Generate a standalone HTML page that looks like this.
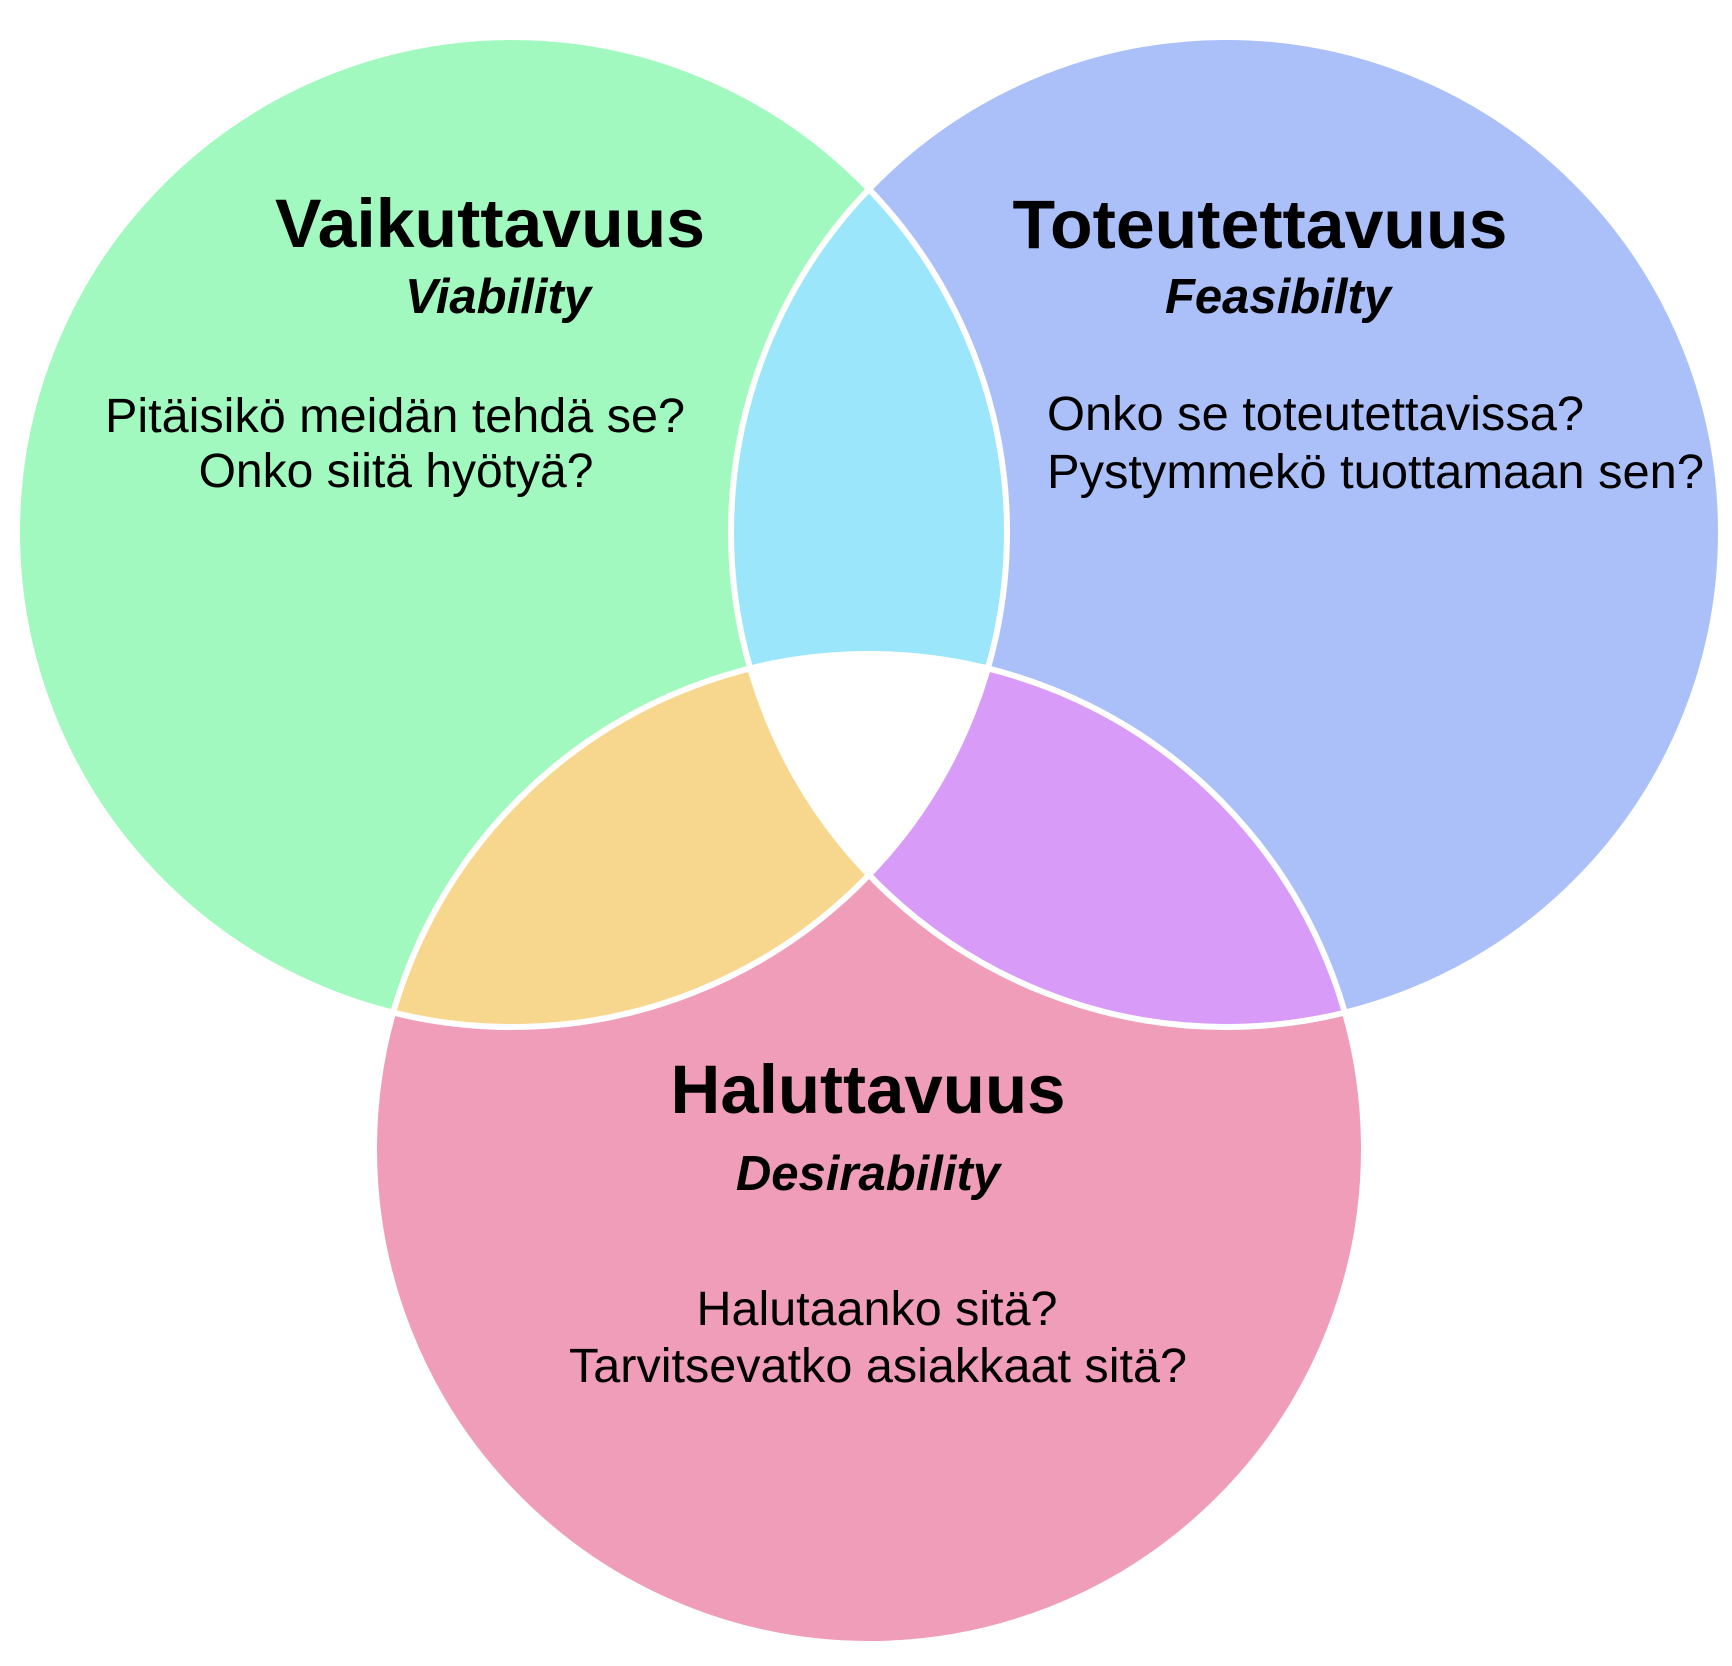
<!DOCTYPE html>
<html><head><meta charset="utf-8"><style>
html,body{margin:0;padding:0;background:#fff;}
svg{display:block;}
text{font-family:"Liberation Sans",Arial,sans-serif;fill:#000;}
</style></head><body>
<svg width="1732" height="1666" viewBox="0 0 1732 1666" xmlns="http://www.w3.org/2000/svg">
<defs>
<clipPath id="cL"><circle cx="512" cy="532" r="495"/></clipPath>
<clipPath id="cR"><circle cx="1226" cy="532" r="495"/></clipPath>
<clipPath id="cB"><circle cx="869" cy="1149" r="495"/></clipPath>
</defs>
<rect width="1732" height="1666" fill="#fff"/>
<circle cx="512" cy="532" r="495" fill="#a2f9bf"/>
<circle cx="1226" cy="532" r="495" fill="#abbff9"/>
<circle cx="869" cy="1149" r="495" fill="#f09dba"/>
<g clip-path="url(#cL)"><circle cx="1226" cy="532" r="495" fill="#9be6fb"/></g>
<g clip-path="url(#cL)"><circle cx="869" cy="1149" r="495" fill="#f7d68e"/></g>
<g clip-path="url(#cR)"><circle cx="869" cy="1149" r="495" fill="#d89cf8"/></g>
<g clip-path="url(#cL)"><g clip-path="url(#cR)"><circle cx="869" cy="1149" r="495" fill="#fff"/></g></g>
<g fill="none" stroke="#fff" stroke-width="6">
<circle cx="512" cy="532" r="495"/>
<circle cx="1226" cy="532" r="495"/>
<circle cx="869" cy="1149" r="495"/>
</g>

<text x="490" y="247" text-anchor="middle" font-size="69" font-weight="bold" textLength="430" lengthAdjust="spacingAndGlyphs">Vaikuttavuus</text>
<text x="498" y="313" text-anchor="middle" font-size="49" font-weight="bold" font-style="italic">Viability</text>
<text x="395" y="432" text-anchor="middle" font-size="48" textLength="580" lengthAdjust="spacingAndGlyphs">Pitäisikö meidän tehdä se?</text>
<text x="396" y="487" text-anchor="middle" font-size="48">Onko siitä hyötyä?</text>

<text x="1260" y="248" text-anchor="middle" font-size="69" font-weight="bold" textLength="495" lengthAdjust="spacingAndGlyphs">Toteutettavuus</text>
<text x="1278" y="313" text-anchor="middle" font-size="49" font-weight="bold" font-style="italic">Feasibilty</text>
<text x="1047" y="430" font-size="48" textLength="537" lengthAdjust="spacingAndGlyphs">Onko se toteutettavissa?</text>
<text x="1047" y="488" font-size="48" textLength="657" lengthAdjust="spacingAndGlyphs">Pystymmekö tuottamaan sen?</text>

<text x="868" y="1113" text-anchor="middle" font-size="69" font-weight="bold" textLength="395" lengthAdjust="spacingAndGlyphs">Haluttavuus</text>
<text x="868" y="1190" text-anchor="middle" font-size="49" font-weight="bold" font-style="italic">Desirability</text>
<text x="877" y="1325" text-anchor="middle" font-size="48" textLength="361" lengthAdjust="spacingAndGlyphs">Halutaanko sitä?</text>
<text x="878" y="1382" text-anchor="middle" font-size="48" textLength="618" lengthAdjust="spacingAndGlyphs">Tarvitsevatko asiakkaat sitä?</text>
</svg>
</body></html>
